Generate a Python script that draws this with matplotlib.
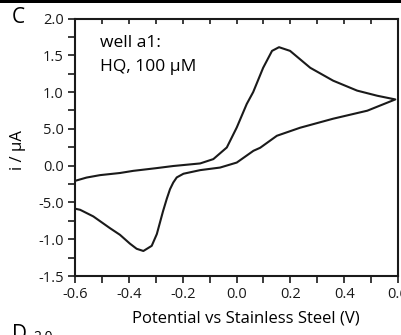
import matplotlib
matplotlib.use("Agg")
import matplotlib.pyplot as plt
from matplotlib.patches import Rectangle
from matplotlib.ticker import MultipleLocator

plt.rcParams['font.family'] = ['Open Sans', 'DejaVu Sans']

# Forward (anodic) sweep
v_fwd = [-0.600, -0.557, -0.507, -0.433, -0.384, -0.300, -0.235, -0.135, -0.086,
         -0.036, 0.001, 0.038, 0.062, 0.099, 0.132, 0.158, 0.199, 0.274, 0.359,
         0.448, 0.523, 0.590]
i_fwd = [-0.207, -0.162, -0.129, -0.100, -0.071, -0.035, -0.005, 0.030, 0.089,
         0.247, 0.519, 0.838, 1.000, 1.330, 1.560, 1.610, 1.560, 1.330, 1.155,
         1.020, 0.950, 0.900]
# Reverse (cathodic) sweep
v_rev = [0.590, 0.486, 0.359, 0.236, 0.150, 0.088, 0.063, 0.001, -0.061, -0.135,
         -0.197, -0.222, -0.235, -0.247, -0.259, -0.273, -0.296, -0.315, -0.346,
         -0.371, -0.396, -0.433, -0.470, -0.532, -0.581, -0.600]
i_rev = [0.900, 0.747, 0.638, 0.515, 0.406, 0.243, 0.202, 0.042, -0.026, -0.061,
         -0.110, -0.160, -0.230, -0.320, -0.450, -0.620, -0.930, -1.090, -1.160,
         -1.130, -1.060, -0.940, -0.850, -0.690, -0.600, -0.585]

x_ticks = [-0.6, -0.4, -0.2, 0.0, 0.2, 0.4, 0.6]
x_labels = ['-0.6', '-0.4', '-0.2', '0.0', '0.2', '0.4', '0.6']
y_ticks = [2.0, 1.5, 1.0, 0.5, 0.0, -0.5, -1.0, -1.5]
y_labels = ['2.0', '1.5', '1.0', '5.0', '0.0', '-5.0', '-1.0', '-1.5']

fig = plt.figure(figsize=(4.01, 3.35), dpi=100)
ax = fig.add_axes([75/401, 1-276/335, (398-75)/401, (276-18.5)/335])

ax.plot(v_fwd + v_rev, i_fwd + i_rev, color='#1a1a1a', lw=1.5, solid_joinstyle='round')

ax.set_xlim(-0.6, 0.6)
ax.set_ylim(-1.5, 2.0)
for s in ax.spines.values():
    s.set_linewidth(1.5)
    s.set_color('#1a1a1a')

ax.set_xticks(x_ticks)
ax.set_xticklabels(x_labels)
ax.set_yticks(y_ticks)
ax.set_yticklabels(y_labels)
ax.xaxis.set_minor_locator(MultipleLocator(0.1))
ax.yaxis.set_minor_locator(MultipleLocator(0.25))
ax.tick_params(axis='both', which='both', direction='out', length=5, width=1.2,
               labelsize=10.5, colors='#1a1a1a', pad=3)
ax.tick_params(axis='x', which='both', top=False)
# top ticks point inward
secx = ax.secondary_xaxis('top')
secx.set_xticks(x_ticks)
secx.xaxis.set_minor_locator(MultipleLocator(0.1))
secx.tick_params(axis='x', which='both', direction='in', length=4.5, width=1.2,
                 labeltop=False, colors='#1a1a1a')
secx.spines['top'].set_visible(False)

ax.set_xlabel('Potential vs Stainless Steel (V)', fontsize=12)
ax.xaxis.set_label_coords(0.529, -0.135)
ax.set_ylabel('i / µA', fontsize=12)
ax.yaxis.set_label_coords(-0.152, 0.49)

ax.text(0.077, 0.905, 'well a1:', transform=ax.transAxes, fontsize=12.5, va='center')
ax.text(0.077, 0.81, 'HQ, 100 µM', transform=ax.transAxes, fontsize=12.5, va='center')

fig.add_artist(Rectangle((0, 1-3.3/335), 1, 3.3/335, transform=fig.transFigure,
                         color='black', lw=0))
fig.text(12/401, 1-17.5/335, 'C', fontsize=15, va='center', ha='left')
fig.text(12/401, 1-324/335, 'D', fontsize=15, va='top', ha='left')
fig.text(33/401, 1-330/335, '2.0', fontsize=10, va='top', ha='left')

fig.savefig('out.png', dpi=100)
